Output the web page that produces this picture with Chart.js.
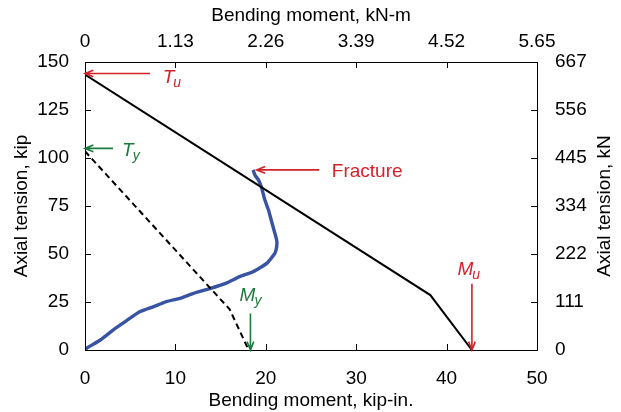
<!DOCTYPE html>
<html>
<head>
<meta charset="utf-8">
<script src="https://cdn.jsdelivr.net/npm/chart.js@4.4.1/dist/chart.umd.min.js"></script>
<style>
  html, body { margin: 0; padding: 0; background: #fff; }
  #wrap { width: 621px; height: 412px; }
</style>
</head>
<body>
<div id="wrap"><canvas id="chart" width="621" height="412"></canvas></div>
<script>
// ultimate (solid) and yield (dashed) interaction lines, kip-in. vs kip
const ultimateX = [0, 38.2, 42.8];
const ultimateY = [143.5, 28.6, 0];
const yieldX = [0, 16.0, 18.1];
const yieldY = [103.5, 21.2, 0];

// measured test curve
const testX = [0, 0.2, 1.7, 3.1, 4.6, 6.1, 7.6, 9.0, 10.5, 12.0, 13.8, 15.7, 17.1, 18.6, 20.1, 21.0, 21.2, 21.2, 20.8, 20.5, 20.3, 19.9, 19.7, 19.5, 19.2, 18.8, 18.6];
const testY = [0, 1.0, 5.2, 10.4, 15.3, 20.0, 22.6, 25.2, 26.9, 29.5, 32.0, 35.0, 38.2, 40.8, 45.1, 50.3, 53.8, 57.3, 64.2, 69.4, 72.9, 78.1, 81.6, 85.0, 88.5, 91.1, 93.8];

// secondary axis tick labels (SI units)
const topTickLabels = ['0', '1.13', '2.26', '3.39', '4.52', '5.65'];
const rightTickLabels = ['0', '111', '222', '334', '445', '556', '667'];

// annotation arrows and labels, in data units
const arrows = [
  { from: [7.2, 144], to: [0, 144], color: '#d2232a' },
  { from: [3.1, 105], to: [0, 105], color: '#1b7a3e' },
  { from: [25.9, 93.8], to: [19.0, 93.8], color: '#d2232a' },
  { from: [18.3, 19], to: [18.3, 0], color: '#1b7a3e' },
  { from: [42.8, 34.5], to: [42.8, 0], color: '#d2232a' }
];
const labels = [
  { text: 'T', sub: 'u', x: 8.6, y: 139, color: '#d2232a' },
  { text: 'T', sub: 'y', x: 4.1, y: 101, color: '#1b7a3e' },
  { text: 'Fracture', sub: '', x: 27.3, y: 90.1, color: '#d2232a' },
  { text: 'M', sub: 'y', x: 17.1, y: 25.7, color: '#1b7a3e' },
  { text: 'M', sub: 'u', x: 41.2, y: 39, color: '#d2232a' }
];

const toPts = (xs, ys) => xs.map((x, i) => ({ x: x, y: ys[i] }));
const FONT = 'Liberation Sans, Arial, sans-serif';

const fixSize = (w, h) => (scale) => {
  if (w !== null) scale.width = w;
  if (h !== null) scale.height = h;
};

const decorPlugin = {
  id: 'decor',
  afterDraw(chart) {
    const ctx = chart.ctx;
    const sx = chart.scales.x, sy = chart.scales.y;
    const area = chart.chartArea;
    ctx.save();
    // inward tick marks
    ctx.strokeStyle = '#000';
    ctx.lineWidth = 1;
    const len = 6;
    for (let v = 0; v <= 50; v += 10) {
      const px = Math.round(sx.getPixelForValue(v)) + 0.5;
      ctx.beginPath();
      ctx.moveTo(px, area.bottom); ctx.lineTo(px, area.bottom - len);
      ctx.moveTo(px, area.top); ctx.lineTo(px, area.top + len);
      ctx.stroke();
    }
    for (let v = 0; v <= 150; v += 25) {
      const py = Math.round(sy.getPixelForValue(v)) + 0.5;
      ctx.beginPath();
      ctx.moveTo(area.left, py); ctx.lineTo(area.left + len, py);
      ctx.moveTo(area.right, py); ctx.lineTo(area.right - len, py);
      ctx.stroke();
    }
    // right axis title, reading upward like the left one
    ctx.save();
    ctx.translate(605, (area.top + area.bottom) / 2);
    ctx.rotate(-Math.PI / 2);
    ctx.fillStyle = '#000';
    ctx.font = '19px ' + FONT;
    ctx.textAlign = 'center';
    ctx.textBaseline = 'middle';
    ctx.fillText('Axial tension, kN', 0, 0);
    ctx.restore();
    // arrows
    arrows.forEach(a => {
      const x1 = sx.getPixelForValue(a.from[0]), y1 = sy.getPixelForValue(a.from[1]);
      const x2 = sx.getPixelForValue(a.to[0]), y2 = sy.getPixelForValue(a.to[1]);
      const ang = Math.atan2(y2 - y1, x2 - x1);
      ctx.strokeStyle = a.color;
      ctx.lineWidth = 1.6;
      ctx.beginPath();
      ctx.moveTo(x1, y1); ctx.lineTo(x2, y2);
      const h = 9, spread = 0.38;
      ctx.moveTo(x2 - h * Math.cos(ang - spread), y2 - h * Math.sin(ang - spread));
      ctx.lineTo(x2, y2);
      ctx.lineTo(x2 - h * Math.cos(ang + spread), y2 - h * Math.sin(ang + spread));
      ctx.stroke();
    });
    // labels
    labels.forEach(l => {
      const px = sx.getPixelForValue(l.x), py = sy.getPixelForValue(l.y);
      ctx.fillStyle = l.color;
      ctx.textBaseline = 'alphabetic';
      ctx.textAlign = 'left';
      if (l.sub) {
        ctx.font = 'italic 19px ' + FONT;
        ctx.fillText(l.text, px, py);
        const w = ctx.measureText(l.text).width;
        ctx.font = 'italic 14px ' + FONT;
        ctx.fillText(l.sub, px + w - 1, py + 4);
      } else {
        ctx.font = '19px ' + FONT;
        ctx.fillText(l.text, px, py);
      }
    });
    ctx.restore();
  }
};

const tickFont = { family: FONT, size: 19 };
const titleFont = { family: FONT, size: 19 };

new Chart(document.getElementById('chart'), {
  type: 'scatter',
  data: {
    datasets: [
      { data: toPts(ultimateX, ultimateY), showLine: true, borderColor: '#000', borderWidth: 2, pointRadius: 0, xAxisID: 'x', yAxisID: 'y' },
      { data: toPts(yieldX, yieldY), showLine: true, borderColor: '#000', borderWidth: 2, borderDash: [6, 4], pointRadius: 0, xAxisID: 'x', yAxisID: 'y' },
      { data: toPts(testX, testY), showLine: true, borderColor: '#3953a4', borderWidth: 3.4, pointRadius: 0, tension: 0.15, xAxisID: 'x', yAxisID: 'y' }
    ]
  },
  options: {
    responsive: false,
    animation: false,
    layout: { padding: 0 },
    plugins: { legend: { display: false }, tooltip: { enabled: false } },
    scales: {
      x: {
        type: 'linear', position: 'bottom', min: 0, max: 50,
        ticks: { stepSize: 10, color: '#000', font: tickFont, padding: 17 },
        grid: { display: false, drawTicks: false },
        border: { display: true, color: '#000', width: 1 },
        title: { display: true, text: 'Bending moment, kip-in.', color: '#000', font: titleFont, padding: { top: 0, bottom: 0 } },
        afterFit: fixSize(null, 62)
      },
      x2: {
        type: 'linear', position: 'top', min: 0, max: 50,
        ticks: { stepSize: 10, color: '#000', font: tickFont, padding: 9, callback: (v, i) => topTickLabels[i] },
        grid: { display: false, drawTicks: false },
        border: { display: true, color: '#000', width: 1 },
        title: { display: true, text: 'Bending moment, kN-m', color: '#000', font: titleFont, padding: { top: 4, bottom: 0 } },
        afterFit: fixSize(null, 62)
      },
      y: {
        type: 'linear', position: 'left', min: 0, max: 150,
        ticks: { stepSize: 25, color: '#000', font: tickFont, padding: 16 },
        grid: { display: false, drawTicks: false },
        border: { display: true, color: '#000', width: 1 },
        title: { display: true, text: 'Axial tension, kip', color: '#000', font: titleFont, padding: { top: 10, bottom: 0 } },
        afterFit: fixSize(85, null)
      },
      y2: {
        type: 'linear', position: 'right', min: 0, max: 150,
        ticks: { stepSize: 25, color: '#000', font: tickFont, padding: 18, callback: (v, i) => rightTickLabels[i] },
        grid: { display: false, drawTicks: false },
        border: { display: true, color: '#000', width: 1 },
        title: { display: false },
        afterFit: fixSize(84, null)
      }
    }
  },
  plugins: [decorPlugin]
});
</script>
</body>
</html>
